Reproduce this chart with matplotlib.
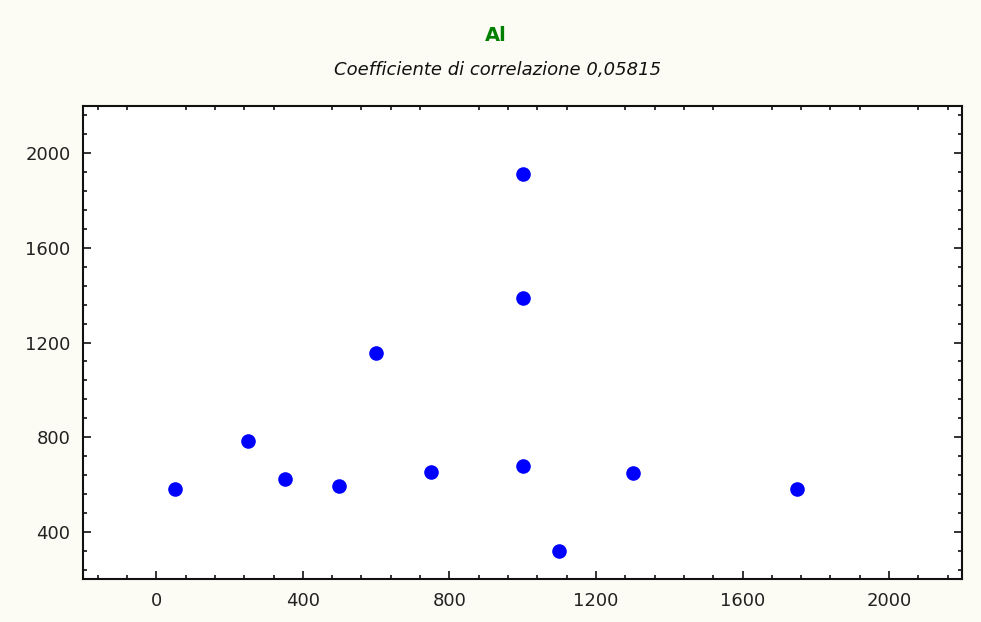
import numpy as np
import matplotlib.pyplot as plt
from matplotlib.ticker import MultipleLocator

# data
x_vals = [50, 250, 350, 500, 600, 750, 1000, 1000, 1000, 1100, 1300, 1750]
y_vals = [580, 785, 625, 595, 1155, 655, 1912, 1390, 680, 320, 650, 580]
x_ticks = [0, 400, 800, 1200, 1600, 2000]
y_ticks = [400, 800, 1200, 1600, 2000]

title = "Al"
subtitle = "Coefficiente di correlazione 0,05815"

fig = plt.figure(figsize=(9.81, 6.22), dpi=100, facecolor="#fcfcf4")
ax = fig.add_axes([0.0846, 0.0687, 0.8964, 0.7613])
ax.set_facecolor("white")

ax.plot(x_vals, y_vals, "o", color="#0000ff", markersize=10.5, markeredgewidth=0)

ax.set_xlim(-200, 2200)
ax.set_ylim(200, 2200)
ax.set_xticks(x_ticks)
ax.set_yticks(y_ticks)
ax.xaxis.set_minor_locator(MultipleLocator(80))
ax.yaxis.set_minor_locator(MultipleLocator(80))

ax.tick_params(which="both", direction="in", top=True, right=True,
               color="#111111", width=1.2)
ax.tick_params(which="major", length=6, labelsize=13, labelcolor="#222222", pad=9)
ax.tick_params(which="minor", length=3)
ax.tick_params(axis="x", which="major", top=False)
for sp in ax.spines.values():
    sp.set_linewidth(1.5)
    sp.set_color("#111111")

fig.text(0.505, 0.943, title, ha="center", va="center", color="#008000",
         fontsize=14, fontweight="bold")
fig.text(0.507, 0.887, subtitle, ha="center", va="center", color="#111111",
         fontsize=13, style="italic")

fig.savefig("out.png", dpi=100, facecolor=fig.get_facecolor())
